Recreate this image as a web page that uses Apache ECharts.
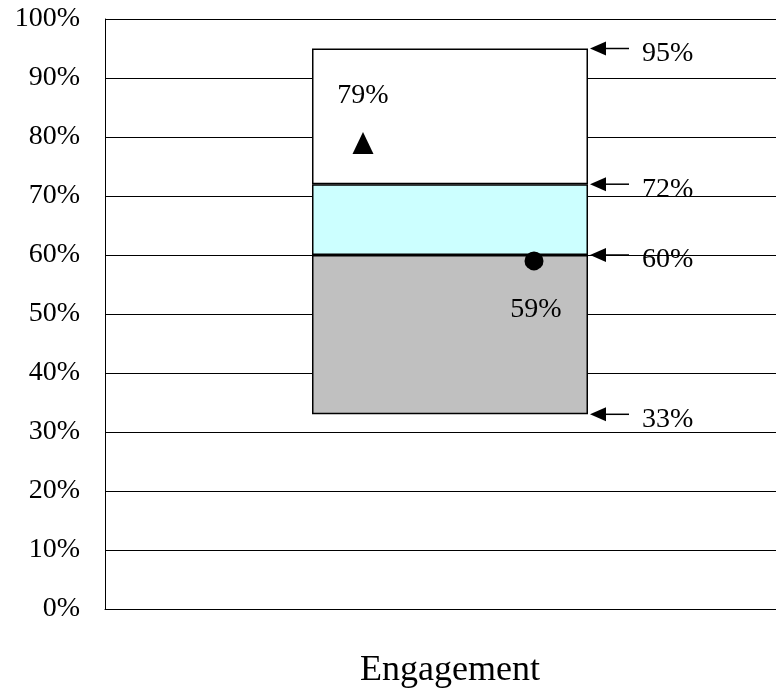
<!DOCTYPE html>
<html>
<head>
<meta charset="utf-8">
<script src="https://cdn.jsdelivr.net/npm/echarts@6/dist/echarts.min.js"></script>
<style>
  html, body { margin: 0; padding: 0; background: #fff; }
  #chart { width: 776px; height: 693px; }
</style>
</head>
<body>
<div id="chart"></div>
<script>
// Benchmark band for a single category
const categories = ['Engagement'];
const bandLow = [33];      // bottom of the grey band
const bandMid = [60];      // grey / cyan boundary
const bandUpper = [72];    // cyan / white boundary
const bandHigh = [95];     // top of the white band
const triangleScore = [79];
const circleScore = [59];
const markerValues = [95, 72, 60, 33];
const yTicks = [0, 10, 20, 30, 40, 50, 60, 70, 80, 90, 100];

const FONT = 'Liberation Serif';
const BAR_W = 276;

// band segments (stacked on a transparent base)
const segGrey = bandMid.map((v, i) => v - bandLow[i]);
const segCyan = bandUpper.map((v, i) => v - bandMid[i]);
const segWhite = bandHigh.map((v, i) => v - bandUpper[i]);

const segStyle = (color) => ({ color: color, borderColor: '#000', borderWidth: 1.5 });

const chart = echarts.init(document.getElementById('chart'), null, { renderer: 'canvas' });

chart.setOption({
  animation: false,
  backgroundColor: '#fff',
  grid: { left: 105, width: 690, top: 19, bottom: 84, containLabel: false, outerBoundsMode: 'none' },
  xAxis: {
    type: 'category',
    data: categories,
    axisLine: { show: true, lineStyle: { color: '#000', width: 1 } },
    axisTick: { show: false },
    axisLabel: { fontFamily: FONT, fontSize: 36, color: '#000', margin: 44 }
  },
  yAxis: {
    type: 'value',
    min: yTicks[0],
    max: yTicks[yTicks.length - 1],
    interval: 10,
    axisLine: { show: true, lineStyle: { color: '#000', width: 1 } },
    axisTick: { show: false },
    axisLabel: { formatter: '{value}%', fontFamily: FONT, fontSize: 28, color: '#000', margin: 25 },
    splitLine: { show: true, lineStyle: { color: '#000', width: 1 } }
  },
  series: [
    { type: 'bar', stack: 'band', data: bandLow, barWidth: BAR_W,
      itemStyle: { color: 'rgba(0,0,0,0)' }, silent: true },
    { type: 'bar', stack: 'band', data: segGrey, barWidth: BAR_W, itemStyle: segStyle('#C0C0C0') },
    { type: 'bar', stack: 'band', data: segCyan, barWidth: BAR_W, itemStyle: segStyle('#CCFFFF') },
    { type: 'bar', stack: 'band', data: segWhite, barWidth: BAR_W, itemStyle: segStyle('#FFFFFF') },
    {
      type: 'scatter', data: triangleScore, symbol: 'triangle', symbolSize: [21, 22],
      symbolOffset: [-87, 0], itemStyle: { color: '#000', opacity: 1 }, z: 5,
      label: { show: true, position: 'top', distance: 22,
        formatter: (p) => p.value + '%', fontFamily: FONT, fontSize: 28, color: '#000' }
    },
    {
      type: 'scatter', data: circleScore, symbol: 'circle', symbolSize: 19,
      symbolOffset: [84, 0], itemStyle: { color: '#000', opacity: 1 }, z: 5,
      label: { show: true, position: 'bottom', distance: 25, offset: [2, 0],
        formatter: (p) => p.value + '%', fontFamily: FONT, fontSize: 28, color: '#000' }
    },
    {
      // arrows pointing at the band boundaries, with their values
      type: 'custom',
      data: markerValues.map((v) => [0, v]),
      z: 6,
      renderItem: function (params, api) {
        const pt = api.coord([api.value(0), api.value(1)]);
        const tipX = pt[0] + BAR_W / 2 + 2;
        const y = pt[1];
        return {
          type: 'group',
          children: [
            { type: 'line', shape: { x1: tipX + 12, y1: y, x2: tipX + 39, y2: y },
              style: { stroke: '#000', lineWidth: 1.5 } },
            { type: 'polygon', shape: { points: [[tipX, y], [tipX + 16, y - 7], [tipX + 16, y + 7]] },
              style: { fill: '#000' } },
            { type: 'text', x: tipX + 52, y: y + 5,
              style: { text: api.value(1) + '%', font: '28px "' + FONT + '"', fill: '#000',
                textAlign: 'left', textVerticalAlign: 'middle' } }
          ]
        };
      }
    }
  ]
});
</script>
</body>
</html>
